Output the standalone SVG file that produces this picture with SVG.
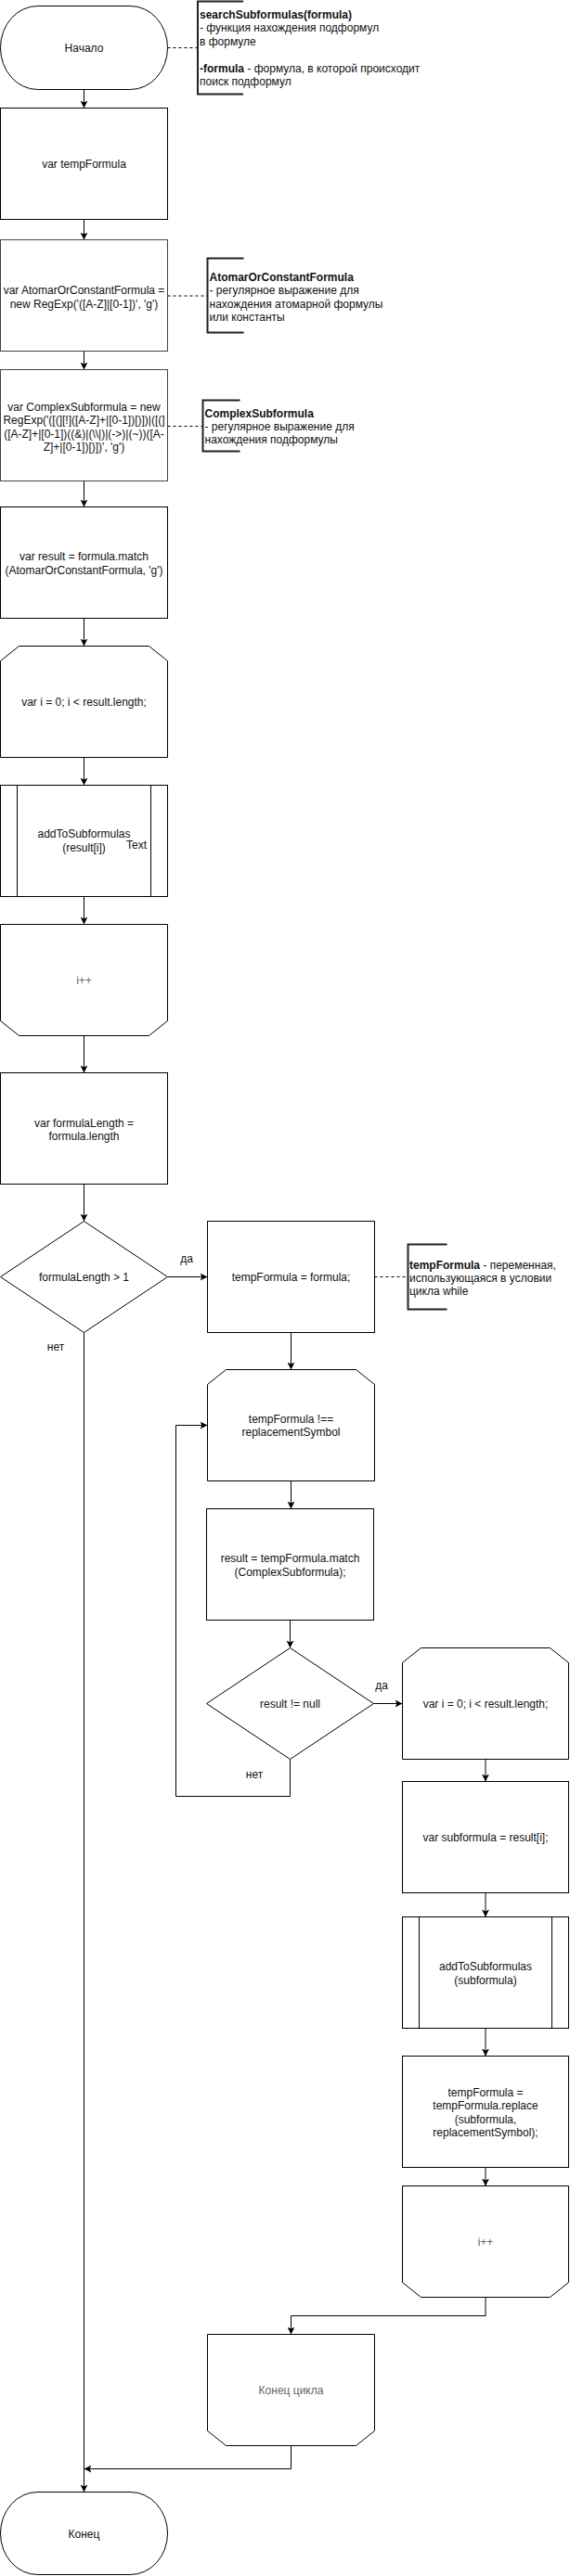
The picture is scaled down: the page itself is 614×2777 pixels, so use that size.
<svg xmlns="http://www.w3.org/2000/svg" width="614" height="2777" viewBox="0 0 614 2777">
<style>
.n{fill:#fff;stroke:#000;stroke-width:1}
.g{fill:#fff;stroke:#444;stroke-width:1}
.t{font-family:"Liberation Sans",Arial,sans-serif;font-size:12px;fill:#111;text-anchor:middle}
.a{font-family:"Liberation Sans",Arial,sans-serif;font-size:12px;fill:#111;text-anchor:start}
.b{font-weight:bold}
.gt{fill:#666}
.c{fill:none;stroke:#000;stroke-width:1}
.d{fill:none;stroke:#000;stroke-width:1;stroke-dasharray:3 3}
.br{fill:none;stroke:#222;stroke-width:2}
</style>
<defs>
<marker id="ar" viewBox="0 0 8 8" markerWidth="8" markerHeight="8" refX="8" refY="4" orient="auto" markerUnits="userSpaceOnUse">
<path d="M0,0 L8,4 L0,8 L2,4 Z" fill="#000"/>
</marker>
</defs>

<g id="connectors">
<line class="c" x1="90.5" y1="96.5" x2="90.5" y2="116.5" marker-end="url(#ar)"/>
<line class="c" x1="90.5" y1="236.5" x2="90.5" y2="258.5" marker-end="url(#ar)"/>
<line class="c" x1="90.5" y1="378.5" x2="90.5" y2="398.5" marker-end="url(#ar)"/>
<line class="c" x1="90.5" y1="518.5" x2="90.5" y2="546.5" marker-end="url(#ar)"/>
<line class="c" x1="90.5" y1="666.5" x2="90.5" y2="696.5" marker-end="url(#ar)"/>
<line class="c" x1="90.5" y1="816.5" x2="90.5" y2="846.5" marker-end="url(#ar)"/>
<line class="c" x1="90.5" y1="966.5" x2="90.5" y2="996.5" marker-end="url(#ar)"/>
<line class="c" x1="90.5" y1="1116.5" x2="90.5" y2="1156.5" marker-end="url(#ar)"/>
<line class="c" x1="90.5" y1="1276.5" x2="90.5" y2="1316.5" marker-end="url(#ar)"/>
<line class="c" x1="180.5" y1="1376.5" x2="223.5" y2="1376.5" marker-end="url(#ar)"/>
<line class="c" x1="90.5" y1="1436.5" x2="90.5" y2="2686.5" marker-end="url(#ar)"/>
<line class="c" x1="313.5" y1="1436.5" x2="313.5" y2="1476.5" marker-end="url(#ar)"/>
<line class="c" x1="313.5" y1="1596.5" x2="313.5" y2="1626.5" marker-end="url(#ar)"/>
<line class="c" x1="312.5" y1="1746.5" x2="312.5" y2="1776.5" marker-end="url(#ar)"/>
<line class="c" x1="402.5" y1="1836.5" x2="433.5" y2="1836.5" marker-end="url(#ar)"/>
<polyline class="c" points="312.5,1896.5 312.5,1936.5 189.5,1936.5 189.5,1536.5 223.5,1536.5" marker-end="url(#ar)"/>
<line class="c" x1="523" y1="1896.5" x2="523" y2="1920.5" marker-end="url(#ar)"/>
<line class="c" x1="523" y1="2040.5" x2="523" y2="2066.5" marker-end="url(#ar)"/>
<line class="c" x1="523" y1="2186.5" x2="523" y2="2216.5" marker-end="url(#ar)"/>
<line class="c" x1="523" y1="2336.5" x2="523" y2="2356.5" marker-end="url(#ar)"/>
<polyline class="c" points="523,2476.5 523,2496.5 313.5,2496.5 313.5,2516.5" marker-end="url(#ar)"/>
<polyline class="c" points="313.5,2636.5 313.5,2661.5 90.5,2661.5" marker-end="url(#ar)"/>
<line class="d" x1="180.5" y1="51.5" x2="213" y2="51.5"/>
<line class="d" x1="180.5" y1="319" x2="223.5" y2="319"/>
<line class="d" x1="180.5" y1="459.5" x2="218.5" y2="459.5"/>
<line class="d" x1="403.5" y1="1376.5" x2="439.5" y2="1376.5"/>
</g>

<g id="start">
<rect class="n" x="0.5" y="6.5" width="180" height="90" rx="40" ry="45"/>
<text class="t" x="90.5" y="55.5">Начало</text>
</g>

<g id="note-search">
<path class="br" d="M262,1.5 H213 V101.5 H262"/>
<text class="a" x="215" y="20"><tspan class="b">searchSubformulas(formula)</tspan></text>
<text class="a" x="215" y="34.4">- функция нахождения подформул</text>
<text class="a" x="215" y="48.8">в формуле</text>
<text class="a" x="215" y="77.6"><tspan class="b">-formula</tspan> - формула, в которой происходит</text>
<text class="a" x="215" y="92">поиск подформул</text>
</g>

<g id="tempFormula-decl">
<rect class="n" x="0.5" y="116.5" width="180" height="120"/>
<text class="t" x="90.5" y="180.5">var tempFormula</text>
</g>

<g id="atomar">
<rect class="g" x="0.5" y="258.5" width="180" height="120"/>
<text class="t" x="90.5" y="317">var AtomarOrConstantFormula =</text>
<text class="t" x="90.5" y="331.5">new RegExp('([A-Z]|[0-1])', 'g')</text>
</g>

<g id="note-atomar">
<path class="br" d="M262.5,278.5 H223.5 V358.5 H262.5"/>
<text class="a" x="225.5" y="303"><tspan class="b">AtomarOrConstantFormula</tspan></text>
<text class="a" x="225.5" y="317.4">- регулярное выражение для</text>
<text class="a" x="225.5" y="331.8">нахождения атомарной формулы</text>
<text class="a" x="225.5" y="346.2">или константы</text>
</g>

<g id="complex">
<rect class="g" x="0.5" y="398.5" width="180" height="120"/>
<text class="t" x="90.5" y="442.5">var ComplexSubformula = new</text>
<text class="t" x="90.5" y="457">RegExp('([(][!]([A-Z]+|[0-1])[)])|([(]</text>
<text class="t" x="90.5" y="471.5">([A-Z]+|[0-1])((&amp;)|(\\|)|(-&gt;)|(~))([A-</text>
<text class="t" x="90.5" y="486">Z]+|[0-1])[)])', 'g')</text>
</g>

<g id="note-complex">
<path class="br" d="M258.5,431.5 H218.5 V486.5 H258.5"/>
<text class="a" x="220.5" y="449.5"><tspan class="b">ComplexSubformula</tspan></text>
<text class="a" x="220.5" y="464">- регулярное выражение для</text>
<text class="a" x="220.5" y="478.4">нахождения подформулы</text>
</g>

<g id="result-match">
<rect class="n" x="0.5" y="546.5" width="180" height="120"/>
<text class="t" x="90.5" y="604">var result = formula.match</text>
<text class="t" x="90.5" y="618.5">(AtomarOrConstantFormula, 'g')</text>
</g>

<g id="loop1-start">
<path class="n" d="M0.5,712.5 L20.5,696.5 H160.5 L180.5,712.5 V816.5 H0.5 Z"/>
<text class="t" x="90.5" y="760.5">var i = 0; i &lt; result.length;</text>
</g>

<g id="add1">
<rect class="n" x="0.5" y="846.5" width="180" height="120"/>
<line class="c" x1="18.5" y1="846.5" x2="18.5" y2="966.5"/>
<line class="c" x1="162.5" y1="846.5" x2="162.5" y2="966.5"/>
<text class="t" x="90.5" y="903">addToSubformulas</text>
<text class="t" x="90.5" y="918">(result[i])</text>
<text class="t" x="147" y="915">Text</text>
</g>

<g id="loop1-end">
<path class="n" d="M0.5,996.5 H180.5 V1100.5 L160.5,1116.5 H20.5 L0.5,1100.5 Z"/>
<text class="t gt" x="90.5" y="1060.5">i++</text>
</g>

<g id="formulaLength">
<rect class="n" x="0.5" y="1156.5" width="180" height="120"/>
<text class="t" x="90.5" y="1214.5">var formulaLength =</text>
<text class="t" x="90.5" y="1229">formula.length</text>
</g>

<g id="cond1">
<path class="n" d="M90.5,1316.5 L180.5,1376.5 L90.5,1436.5 L0.5,1376.5 Z"/>
<text class="t" x="90.5" y="1380.5">formulaLength &gt; 1</text>
<text class="t" x="201" y="1360.5">да</text>
<text class="t" x="60" y="1455.5">нет</text>
</g>

<g id="tempFormula-assign">
<rect class="n" x="223.5" y="1316.5" width="180" height="120"/>
<text class="t" x="313.5" y="1380.5">tempFormula = formula;</text>
</g>

<g id="note-temp">
<path class="br" d="M481.5,1341.5 H439.5 V1411.5 H481.5"/>
<text class="a" x="441" y="1367.5"><tspan class="b">tempFormula</tspan> - переменная,</text>
<text class="a" x="441" y="1381.9">использующаяся в условии</text>
<text class="a" x="441" y="1396.3">цикла while</text>
</g>

<g id="while-start">
<path class="n" d="M223.5,1492.5 L243.5,1476.5 H383.5 L403.5,1492.5 V1596.5 H223.5 Z"/>
<text class="t" x="313.5" y="1533.5">tempFormula !==</text>
<text class="t" x="313.5" y="1548">replacementSymbol</text>
</g>

<g id="match2">
<rect class="n" x="222.5" y="1626.5" width="180" height="120"/>
<text class="t" x="312.5" y="1684">result = tempFormula.match</text>
<text class="t" x="312.5" y="1698.5">(ComplexSubformula);</text>
</g>

<g id="cond2">
<path class="n" d="M312.5,1776.5 L402.5,1836.5 L312.5,1896.5 L222.5,1836.5 Z"/>
<text class="t" x="312.5" y="1840.5">result != null</text>
<text class="t" x="411" y="1820.5">да</text>
<text class="t" x="274" y="1917">нет</text>
</g>

<g id="loop2-start">
<path class="n" d="M433.5,1792.5 L453.5,1776.5 H592.5 L612.5,1792.5 V1896.5 H433.5 Z"/>
<text class="t" x="523" y="1840.5">var i = 0; i &lt; result.length;</text>
</g>

<g id="subformula">
<rect class="n" x="433.5" y="1920.5" width="179" height="120"/>
<text class="t" x="523" y="1985">var subformula = result[i];</text>
</g>

<g id="add2">
<rect class="n" x="433.5" y="2066.5" width="179" height="120"/>
<line class="c" x1="451.5" y1="2066.5" x2="451.5" y2="2186.5"/>
<line class="c" x1="594.5" y1="2066.5" x2="594.5" y2="2186.5"/>
<text class="t" x="523" y="2124">addToSubformulas</text>
<text class="t" x="523" y="2138.5">(subformula)</text>
</g>

<g id="replace">
<rect class="n" x="433.5" y="2216.5" width="179" height="120"/>
<text class="t" x="523" y="2259.5">tempFormula =</text>
<text class="t" x="523" y="2274">tempFormula.replace</text>
<text class="t" x="523" y="2288.5">(subformula,</text>
<text class="t" x="523" y="2303">replacementSymbol);</text>
</g>

<g id="loop2-end">
<path class="n" d="M433.5,2356.5 H612.5 V2460.5 L592.5,2476.5 H453.5 L433.5,2460.5 Z"/>
<text class="t gt" x="523" y="2420.5">i++</text>
</g>

<g id="while-end">
<path class="n" d="M223.5,2516.5 H403.5 V2620.5 L383.5,2636.5 H243.5 L223.5,2620.5 Z"/>
<text class="t gt" x="313.5" y="2581">Конец цикла</text>
</g>

<g id="end">
<rect class="n" x="0.5" y="2686.5" width="180" height="89" rx="40" ry="44.5"/>
<text class="t" x="90.5" y="2735.5">Конец</text>
</g>
</svg>
